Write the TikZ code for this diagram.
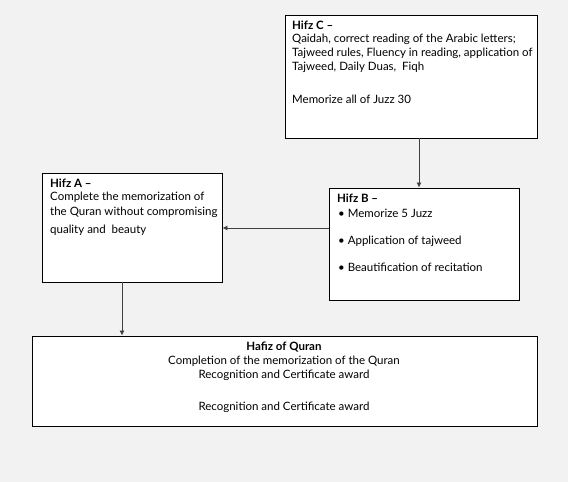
\documentclass[tikz,border=0pt]{standalone}
\usepackage{fontspec}
\setmainfont{Lato}
\usetikzlibrary{arrows.meta}
\begin{document}
\begin{tikzpicture}[x=1pt,y=-1pt,
  box/.style={draw=black,fill=white,line width=0.9pt,rectangle,inner sep=0pt},
  txt/.style={anchor=west,inner sep=0pt,font=\fontsize{11.5}{13}\selectfont},
  ctxt/.style={anchor=center,inner sep=0pt,font=\fontsize{11.5}{13}\selectfont},
  arr/.style={draw=black!75,line width=0.8pt,-{Latex[length=5pt,width=5pt]}}]
\fill[fill={rgb,255:red,242;green,242;blue,242}] (0,0) rectangle (568,482);
\useasboundingbox (0,0) rectangle (568,482);
% boxes
\node[box,minimum width=252pt,minimum height=123pt] (C) at (411,76.5) {};
\node[box,minimum width=180pt,minimum height=109pt] (A) at (132,227.5) {};
\node[box,minimum width=190pt,minimum height=112pt] (B) at (424,244) {};
\node[box,minimum width=505pt,minimum height=90pt] (H) at (284.5,381) {};
% Hifz C text
\node[txt] (c0) at (292,25) {\textbf{Hifz C –}};
\node[txt] (c1) at (292,39) {Qaidah, correct reading of the Arabic letters;};
\node[txt] (c2) at (292,53) {Tajweed rules, Fluency in reading, application of};
\node[txt] (c3) at (292,67) {Tajweed, Daily Duas, \ Fiqh};
\node[txt] (c4) at (292,99) {Memorize all of Juzz 30};
% Hifz A text
\node[txt] (a0) at (50,183) {\textbf{Hifz A –}};
\node[txt] (a1) at (50,197) {Complete the memorization of};
\node[txt] (a2) at (50,212) {the Quran without compromising};
\node[txt] (a3) at (50,230) {quality and \ beauty};
% Hifz B text
\node[txt] (b0) at (337,198) {\textbf{Hifz B –}};
\node[txt] (b1) at (338,213) {\textbullet\ Memorize 5 Juzz};
\node[txt] (b2) at (338,241) {\textbullet\ Application of tajweed};
\node[txt] (b3) at (338,267) {\textbullet\ Beautification of recitation};
% Hafiz text
\node[ctxt] (h0) at (284,347) {\textbf{Hafiz of Quran}};
\node[ctxt] (h1) at (284,361) {Completion of the memorization of the Quran};
\node[ctxt] (h2) at (284,375) {Recognition and Certificate award};
\node[ctxt] (h3) at (284,407) {Recognition and Certificate award};
% arrows
\coordinate (xc) at (419,0);
\coordinate (yb) at (0,228);
\coordinate (xa) at (122,0);
\draw[arr] (C.south -| xc) -- (B.north -| xc);
\draw[arr] (B.west |- yb) -- (A.east |- yb);
\draw[arr] (A.south -| xa) -- (H.north -| xa);
\end{tikzpicture}
\end{document}
